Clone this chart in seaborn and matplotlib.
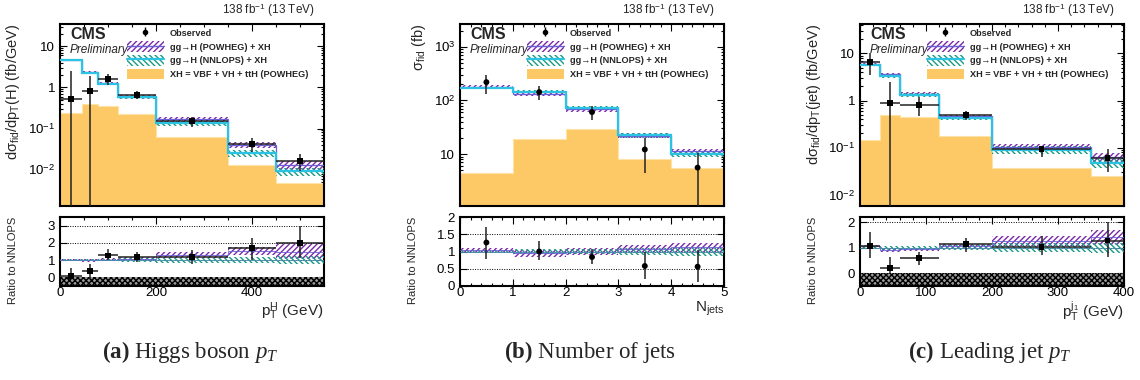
"""
Fiducial differential cross sections: Higgs pT, number of jets, leading jet pT.
Three CMS-style panels with a ratio-to-NNLOPS pad below each.
"""

import numpy as np
import matplotlib
matplotlib.use("Agg")
import matplotlib.pyplot as plt
import seaborn as sns
from matplotlib.patches import Patch
from matplotlib.lines import Line2D
from matplotlib.ticker import FuncFormatter, FixedLocator, MultipleLocator, LogLocator, NullFormatter

# ---------------- data ----------------
# (a) Higgs boson pT
pth_edges = [0, 45, 80, 120, 200, 350, 450, 550]
pth_obs = [0.52, 0.80, 1.59, 0.665, 0.155, 0.042, 0.0166]
pth_obs_up = [2.45, 1.85, 2.1, 0.83, 0.187, 0.059, 0.0245]
pth_obs_dn = [1e-4, 1e-4, 1.16, 0.52, 0.107, 0.027, 0.0094]
pth_powheg = [4.7, 2.35, 1.25, 0.60, 0.17, 0.040, 0.0128]
pth_nnlops = [4.7, 2.3, 1.2, 0.57, 0.136, 0.025, 0.0091]
pth_xh = [0.24, 0.39, 0.35, 0.22, 0.061, 0.0128, 0.0048]
pth_powheg_unc = [0.06, 0.08, 0.08, 0.10, 0.13, 0.15, 0.30]
pth_nnlops_unc = [0.05, 0.06, 0.07, 0.10, 0.15, 0.18, 0.22]
pth_ratio_obs = [0.10, 0.35, 1.27, 1.16, 1.16, 1.68, 1.99]
pth_ratio_up = [0.54, 0.79, 1.66, 1.45, 1.56, 2.31, 2.99]
pth_ratio_dn = [-0.1, -0.1, 0.98, 0.92, 0.79, 1.02, 1.12]
pth_ratio_powheg = [1.0, 1.0, 1.02, 1.05, 1.28, 1.55, 1.5]

# (b) number of jets
nj_edges = [0, 1, 2, 3, 4, 5]
nj_obs = [219, 143, 60.5, 12.2, 5.6]
nj_obs_up = [300, 182, 80, 20.2, 10.5]
nj_obs_dn = [133, 103, 44, 4.5, 0.5]
nj_powheg = [180, 132, 68, 22, 11.2]
nj_nnlops = [169, 145, 72, 22.3, 10.2]
nj_xh = [4.45, 18.8, 28.8, 7.96, 5.5]
nj_powheg_unc = [0.06, 0.10, 0.10, 0.10, 0.12]
nj_nnlops_unc = [0.05, 0.07, 0.08, 0.10, 0.12]
nj_ratio_obs = [1.26, 1.0, 0.84, 0.58, 0.56]
nj_ratio_up = [1.72, 1.3, 1.08, 0.99, 1.03]
nj_ratio_dn = [0.77, 0.745, 0.63, 0.21, 0.13]
nj_ratio_powheg = [1.05, 0.95, 1.0, 1.07, 1.12]

# (c) leading jet pT
pt1_edges = [0, 30, 60, 120, 200, 350, 400]
pt1_obs = [6.5, 0.88, 0.81, 0.50, 0.095, 0.060]
pt1_obs_up = [10, 2.53, 1.18, 0.61, 0.111, 0.095]
pt1_obs_dn = [3.5, 1e-4, 0.46, 0.38, 0.065, 0.030]
pt1_powheg = [6.0, 3.6, 1.4, 0.46, 0.105, 0.063]
pt1_nnlops = [5.7, 3.3, 1.32, 0.42, 0.090, 0.047]
pt1_xh = [0.147, 0.50, 0.44, 0.173, 0.037, 0.025]
pt1_powheg_unc = [0.06, 0.08, 0.08, 0.08, 0.16, 0.22]
pt1_nnlops_unc = [0.07, 0.08, 0.08, 0.10, 0.18, 0.20]
pt1_ratio_obs = [1.08, 0.22, 0.59, 1.14, 1.04, 1.28]
pt1_ratio_up = [1.61, 0.65, 0.84, 1.37, 1.44, 2.0]
pt1_ratio_dn = [0.59, 0.0, 0.33, 0.85, 0.72, 0.65]
pt1_ratio_powheg = [1.05, 0.92, 0.93, 1.05, 1.25, 1.4]

# ---------------- style ----------------
sns.set_theme(style="ticks")
plt.rcParams["font.family"] = ["Liberation Sans", "DejaVu Sans"]
plt.rcParams["mathtext.fontset"] = "custom"
plt.rcParams["mathtext.rm"] = "Liberation Sans"
plt.rcParams["mathtext.sf"] = "Liberation Sans"
plt.rcParams["mathtext.it"] = "Liberation Serif:italic"
plt.rcParams["mathtext.bf"] = "Liberation Serif:bold"
plt.rcParams["hatch.linewidth"] = 1.0

ORANGE = "#fdc966"
PURPLE = "#7a2aa8"
TEAL = "#1b9985"
CYAN = "#2bc3e3"
SLATE = "#6a5fd6"

FIG_W, FIG_H = 1140, 380


def log_fmt(v, pos):
    if np.isclose(v, 1):
        return "1"
    if np.isclose(v, 10):
        return "10"
    return r"$10^{%d}$" % int(round(np.log10(v)))


def step_y(vals):
    vals = np.asarray(vals, dtype=float)
    return np.append(vals, vals[-1])


def style_axis(ax):
    for sp in ax.spines.values():
        sp.set_linewidth(1.5)
        sp.set_color("black")
    ax.tick_params(which="both", direction="in", top=True, right=True,
                   labelsize=9.5, colors="black", width=0.8)
    ax.tick_params(which="major", length=5)
    ax.tick_params(which="minor", length=2.5)


def draw_panel(i, edges, obs, obs_up, obs_dn, powheg, nnlops, xh, pw_unc, nn_unc,
               r_obs, r_up, r_dn, r_pw, ylim, rylim, rticks, rgrid, marker,
               xerr, ylabel, xlabel, xticks, xminor, ylabel_x):
    left = [60, 460, 860][i]
    ax = fig.add_axes([left / FIG_W, 1 - 206 / FIG_H, 264 / FIG_W, 182 / FIG_H])
    rax = fig.add_axes([left / FIG_W, 1 - 286 / FIG_H, 264 / FIG_W, 69 / FIG_H])

    edges = np.asarray(edges, dtype=float)
    centers = 0.5 * (edges[1:] + edges[:-1])
    half = 0.5 * np.diff(edges)
    obs = np.asarray(obs)
    powheg = np.asarray(powheg)
    nnlops = np.asarray(nnlops)
    pw_unc = np.asarray(pw_unc)
    nn_unc = np.asarray(nn_unc)

    # ---- main pad ----
    ax.set_yscale("log")
    ax.stairs(xh, edges, baseline=1e-6, fill=True, facecolor=ORANGE,
              edgecolor="none", zorder=1)
    ax.stairs(xh, edges, baseline=None, color="#ffe3a6", linewidth=0.8, zorder=1.1)
    ax.fill_between(edges, step_y(powheg * (1 - pw_unc)), step_y(powheg * (1 + pw_unc)),
                    step="post", facecolor="none", edgecolor=PURPLE, hatch="//////", linewidth=0, zorder=2)
    ax.fill_between(edges, step_y(nnlops * (1 - nn_unc)), step_y(nnlops * (1 + nn_unc)),
                    step="post", facecolor="none", edgecolor=TEAL, hatch="\\\\\\\\\\\\", linewidth=0, zorder=3)
    ax.stairs(powheg, edges, baseline=None, color=SLATE, linewidth=0.9, zorder=3.5)
    ax.stairs(nnlops, edges, baseline=None, color=CYAN, linewidth=1.6, zorder=4)

    yerr = [obs - np.asarray(obs_dn), np.asarray(obs_up) - obs]
    ax.errorbar(centers, obs, yerr=yerr, xerr=half if xerr else None, fmt="none",
                ecolor="#222222", elinewidth=1.1, capsize=0, zorder=5)
    sns.scatterplot(x=centers, y=obs, marker=marker, color="black", s=18,
                    edgecolor="none", ax=ax, zorder=6)

    ax.set_xlim(edges[0], edges[-1])
    ax.set_ylim(*ylim)
    ax.yaxis.set_major_formatter(FuncFormatter(log_fmt))
    ax.yaxis.set_minor_locator(LogLocator(base=10, subs=np.arange(2, 10)))
    ax.yaxis.set_minor_formatter(NullFormatter())
    ax.xaxis.set_major_locator(FixedLocator(xticks))
    ax.xaxis.set_minor_locator(MultipleLocator(xminor))
    ax.set_xticklabels([])
    ax.set_xlabel("")
    ax.set_ylabel(ylabel, fontsize=10.5, loc="top")
    ax.yaxis.set_label_coords(ylabel_x, 1.0)
    style_axis(ax)

    ax.text(0.038, 0.985, "CMS", transform=ax.transAxes, fontsize=11.5,
            fontweight="bold", ha="left", va="top")
    ax.text(0.038, 0.855, "Preliminary", transform=ax.transAxes, fontsize=8.5,
            fontstyle="italic", ha="left", va="center")
    ax.text(0.965, 1.077, r"138 fb$^{-1}$ (13 TeV)", transform=ax.transAxes,
            fontsize=8.5, ha="right", va="center")

    obs_handle = ax.errorbar([np.nan], [np.nan], yerr=[1.0], fmt="o", color="black",
                             ms=3, elinewidth=1.0, capsize=0)
    handles = [
        obs_handle,
        (Patch(facecolor="none", edgecolor=PURPLE, hatch="//////", linewidth=0),
         Line2D([], [], color=SLATE, linewidth=1.0)),
        (Patch(facecolor="none", edgecolor=TEAL, hatch="\\\\\\\\\\\\", linewidth=0),
         Line2D([], [], color=CYAN, linewidth=1.6)),
        Patch(facecolor=ORANGE, edgecolor="none"),
    ]
    labels = ["Observed", "gg\u2192H (POWHEG) + XH", "gg\u2192H (NNLOPS) + XH",
              "XH = VBF + VH + ttH (POWHEG)"]
    ax.legend(handles, labels, loc="upper left", bbox_to_anchor=(0.24, 1.0),
              frameon=False, prop={"weight": "bold", "size": 6.6},
              handlelength=4.0, handleheight=1.45, labelspacing=0.3,
              borderaxespad=0.2, borderpad=0.2, handletextpad=0.7)

    # ---- ratio pad ----
    r_pw = np.asarray(r_pw)
    rax.axhspan(-0.5, 0, facecolor="#9a9a9a", edgecolor="black", hatch="xxxxxx",
                linewidth=0, zorder=1)
    for g in rgrid:
        rax.axhline(g, color="black", linestyle=(0, (1, 1.5)), linewidth=0.7, zorder=1.5)
    rax.fill_between(edges, step_y(r_pw * (1 - pw_unc)), step_y(r_pw * (1 + pw_unc)),
                     step="post", facecolor="none", edgecolor=PURPLE, hatch="//////", linewidth=0, zorder=2)
    rax.fill_between(edges, step_y(1 - nn_unc), step_y(1 + nn_unc),
                     step="post", facecolor="none", edgecolor=TEAL, hatch="\\\\\\\\\\\\", linewidth=0, zorder=3)
    rax.stairs(r_pw, edges, baseline=None, color=SLATE, linewidth=0.6, zorder=3.5)
    rax.stairs(np.ones(len(centers)), edges, baseline=None, color="#4a8fb0", linewidth=0.6, zorder=3.6)

    r_obs = np.asarray(r_obs)
    ryerr = [r_obs - np.asarray(r_dn), np.asarray(r_up) - r_obs]
    rax.errorbar(centers, r_obs, yerr=ryerr, xerr=half if xerr else None, fmt="none",
                 ecolor="#222222", elinewidth=1.1, capsize=0, zorder=5)
    sns.scatterplot(x=centers, y=r_obs, marker=marker, color="black", s=18,
                    edgecolor="none", ax=rax, zorder=6)

    rax.set_xlim(edges[0], edges[-1])
    rax.set_ylim(*rylim)
    rax.set_yticks(rticks)
    rax.set_yticklabels([("%g" % t) for t in rticks])
    rax.xaxis.set_major_locator(FixedLocator(xticks))
    rax.xaxis.set_minor_locator(MultipleLocator(xminor))
    rax.set_xticklabels([("%g" % t) for t in xticks])
    rax.set_ylabel("Ratio to NNLOPS", fontsize=8, loc="top")
    rax.yaxis.set_label_coords(-0.16, 1.0)
    rax.set_xlabel(xlabel, fontsize=11, loc="right")
    rax.xaxis.set_label_coords(1.0, -0.2)
    style_axis(rax)
    rax.tick_params(axis="x", pad=1)
    return ax, rax


fig = plt.figure(figsize=(FIG_W / 100, FIG_H / 100), dpi=100)

draw_panel(0, pth_edges, pth_obs, pth_obs_up, pth_obs_dn, pth_powheg, pth_nnlops, pth_xh,
           pth_powheg_unc, pth_nnlops_unc, pth_ratio_obs, pth_ratio_up, pth_ratio_dn,
           pth_ratio_powheg, ylim=(1.3e-3, 35), rylim=(-0.5, 3.5), rticks=[0, 1, 2, 3],
           rgrid=[1, 2, 3], marker="s", xerr=True,
           ylabel=r"d$\mathrm{\sigma_{fid}}$/dp$_\mathrm{T}$(H) (fb/GeV)",
           xlabel=r"p$_\mathrm{T}^\mathrm{H}$ (GeV)", xticks=[0, 200, 400], xminor=50,
           ylabel_x=-0.145)

draw_panel(1, nj_edges, nj_obs, nj_obs_up, nj_obs_dn, nj_powheg, nj_nnlops, nj_xh,
           nj_powheg_unc, nj_nnlops_unc, nj_ratio_obs, nj_ratio_up, nj_ratio_dn,
           nj_ratio_powheg, ylim=(1.08, 2650), rylim=(0, 2), rticks=[0, 0.5, 1, 1.5, 2],
           rgrid=[0.5, 1, 1.5], marker="o", xerr=False,
           ylabel=r"$\mathrm{\sigma_{fid}}$ (fb)",
           xlabel=r"N$_\mathrm{jets}$", xticks=[0, 1, 2, 3, 4, 5], xminor=0.2,
           ylabel_x=-0.12)

draw_panel(2, pt1_edges, pt1_obs, pt1_obs_up, pt1_obs_dn, pt1_powheg, pt1_nnlops, pt1_xh,
           pt1_powheg_unc, pt1_nnlops_unc, pt1_ratio_obs, pt1_ratio_up, pt1_ratio_dn,
           pt1_ratio_powheg, ylim=(5.8e-3, 42), rylim=(-0.5, 2.2), rticks=[0, 1, 2],
           rgrid=[1, 2], marker="s", xerr=True,
           ylabel=r"d$\mathrm{\sigma_{fid}}$/dp$_\mathrm{T}$(jet) (fb/GeV)",
           xlabel=r"p$_\mathrm{T}^\mathrm{j_1}$ (GeV)", xticks=[0, 100, 200, 300, 400], xminor=20,
           ylabel_x=-0.14)

# sub-figure captions
captions = [r"$\mathbf{(a)}$ Higgs boson $p_T$", r"$\mathbf{(b)}$ Number of jets",
            r"$\mathbf{(c)}$ Leading jet $p_T$"]
for cx, cap in zip([190, 590, 990], captions):
    fig.text(cx / FIG_W, 1 - 352 / FIG_H, cap, ha="center", va="center",
             fontsize=16.5, family="Liberation Serif")

fig.savefig("out.png", dpi=100)
